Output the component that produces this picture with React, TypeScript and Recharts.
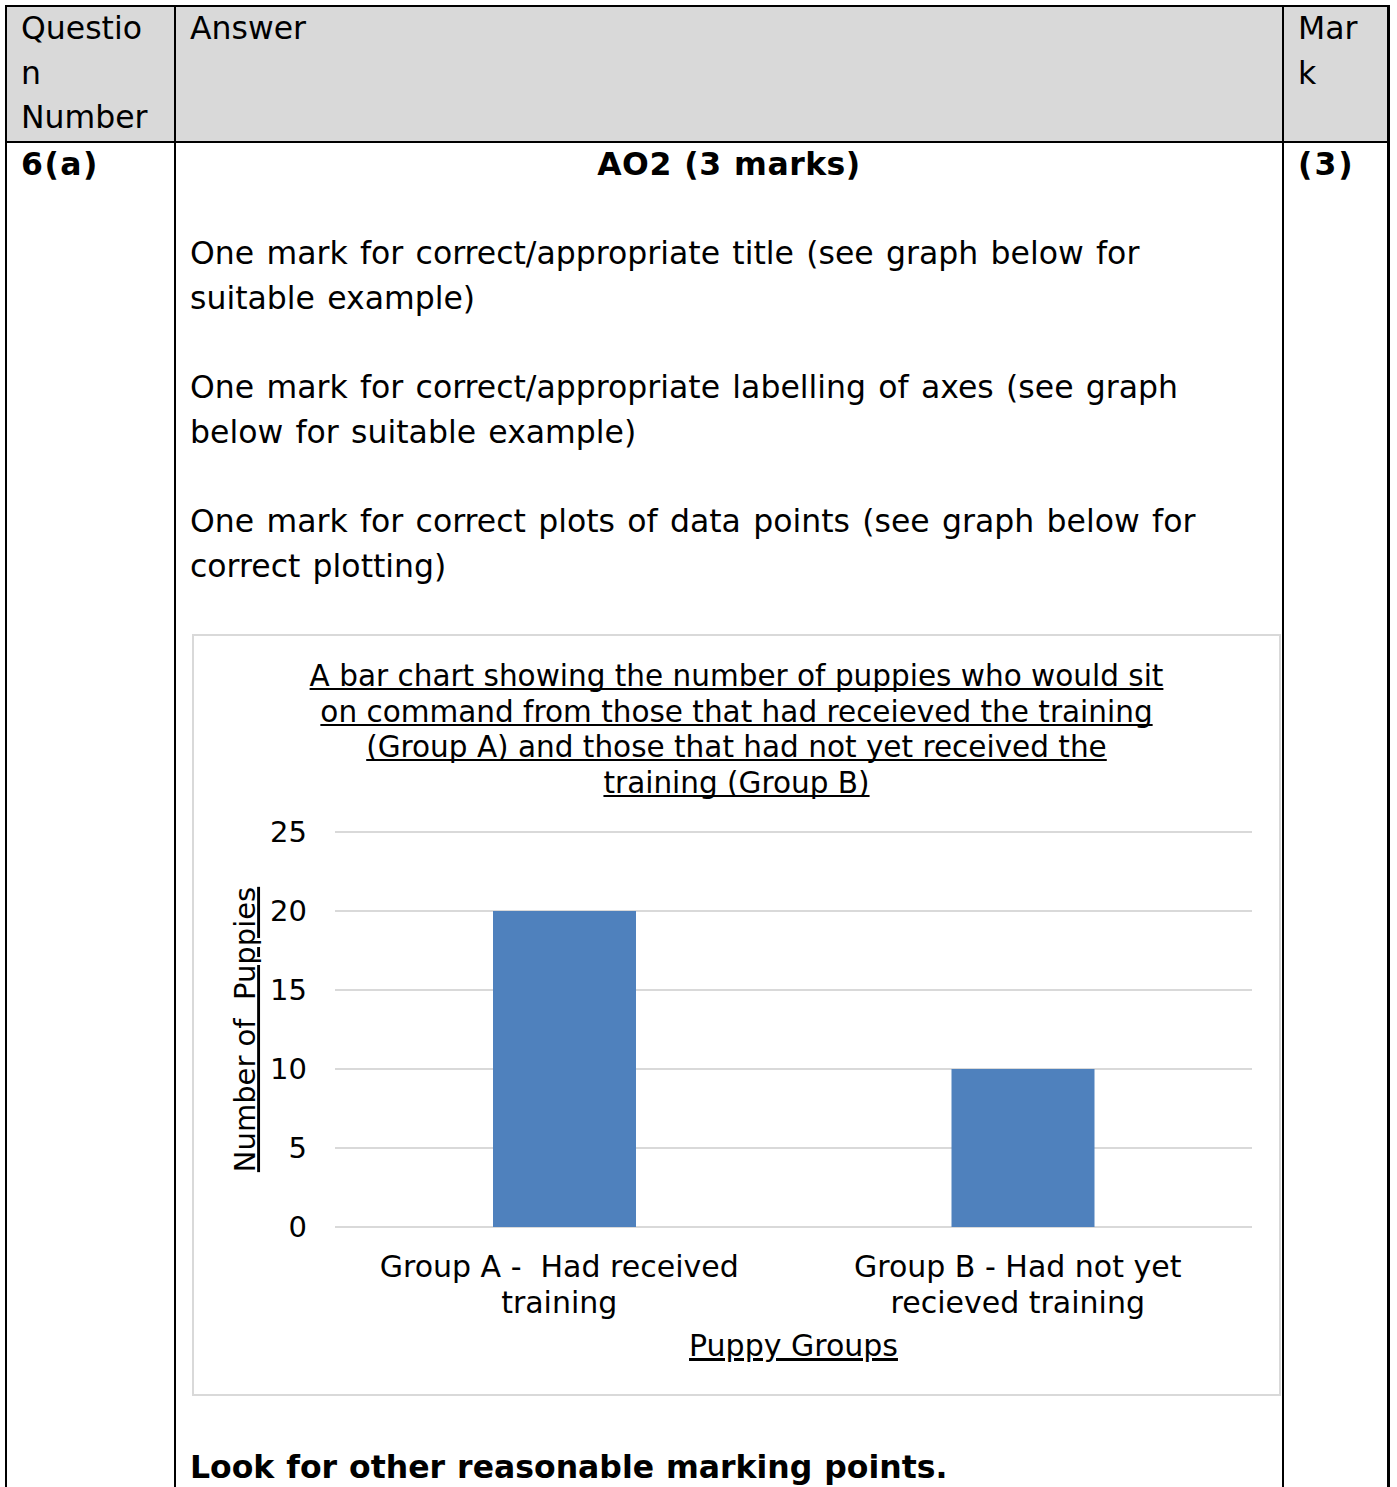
import React from 'react'
import { BarChart, Bar, XAxis, YAxis, CartesianGrid } from 'recharts'

const groups = ['Group A -  Had received|training', 'Group B - Had not yet|recieved training']
const puppies = [20, 10]
const yTicks = [0, 5, 10, 15, 20, 25]

const titleLines = [
  'A bar chart showing the number of puppies who would sit',
  'on command from those that had receieved the training',
  '(Group A) and those that had not yet received the',
  'training (Group B)',
]

const chartData = groups.map((g, i) => ({ group: g, puppies: puppies[i] }))

const FONT = '"DejaVu Sans", Verdana, sans-serif'
const BODY_LH = 44.67

const line = (left: number, top: number, width: number, height: number) => (
  <div style={{ position: 'absolute', left, top, width, height, background: '#000' }} />
)

const GroupTick = (props: any) => {
  const { x, y, payload } = props
  const parts = String(payload.value).split('|')
  return (
    <text x={x} y={y} textAnchor="middle" fill="#000" fontSize={30} fontFamily={FONT} style={{ whiteSpace: 'pre' }}>
      {parts.map((p, i) => (
        <tspan key={i} x={x - 5} dy={i === 0 ? 42 : 36}>{p}</tspan>
      ))}
    </text>
  )
}

function PuppyChart() {
  return (
    <BarChart
      width={1085}
      height={758}
      data={chartData}
      margin={{ top: 196, right: 27, left: 81, bottom: 47 }}
      barCategoryGap="34%"
    >
      <CartesianGrid vertical={false} stroke="#d9d9d9" strokeWidth={2} />
      <XAxis
        dataKey="group"
        axisLine={false}
        tickLine={false}
        height={120}
        interval={0}
        tick={<GroupTick />}
        label={{
          content: (p: any) => {
            const vb = p.viewBox
            return (
              <text
                x={vb.x + vb.width / 2}
                y={vb.y + 129}
                textAnchor="middle"
                fill="#000"
                fontSize={30}
                fontFamily={FONT}
                textDecoration="underline"
                style={{ textDecorationSkipInk: 'none' } as any}
              >
                Puppy Groups
              </text>
            )
          },
        }}
      />
      <YAxis
        width={60}
        domain={[0, 25]}
        ticks={yTicks}
        axisLine={false}
        tickLine={false}
        tickMargin={22}
        tick={{ fill: '#000', fontSize: 29, fontFamily: FONT }}
        label={{
          content: (p: any) => {
            const vb = p.viewBox
            const cx = 51
            const cy = vb.y + vb.height / 2
            return (
              <text
                x={cx}
                y={cy}
                dy="0.35em"
                textAnchor="middle"
                fill="#000"
                fontSize={29}
                fontFamily={FONT}
                textDecoration="underline"
                transform={`rotate(-90 ${cx} ${cy})`}
                style={{ whiteSpace: 'pre', textDecorationSkipInk: 'none' } as any}
              >
                Number of  Puppies
              </text>
            )
          },
        }}
      />
      <Bar dataKey="puppies" fill="#4f81bd" barSize={143} isAnimationActive={false} />
    </BarChart>
  )
}

export default function App() {
  const text: React.CSSProperties = {
    position: 'absolute',
    fontFamily: FONT,
    fontSize: 31.5,
    lineHeight: `${BODY_LH}px`,
    color: '#000',
    whiteSpace: 'pre',
    wordSpacing: 2.3,
  }
  const bold: React.CSSProperties = { fontWeight: 'bold', wordSpacing: 1 }
  return (
    <div style={{ position: 'absolute', left: 0, top: 0, width: 1397, height: 1487, overflow: 'hidden', background: '#fff' }}>
      {/* header fill */}
      <div style={{ position: 'absolute', left: 6, top: 6, width: 1382, height: 136, background: '#d9d9d9' }} />
      {line(5, 5, 1385, 2)}
      {line(5, 141, 1385, 2)}
      {line(5, 5, 2, 1482)}
      {line(174, 5, 2, 1482)}
      {line(1282, 5, 2, 1482)}
      {line(1387, 5, 3, 1482)}

      <div style={{ ...text, left: 21, top: 6 }}>{'Questio\nn\nNumber'}</div>
      <div style={{ ...text, left: 190, top: 6 }}>Answer</div>
      <div style={{ ...text, left: 1298, top: 6 }}>{'Mar\nk'}</div>

      <div style={{ ...text, ...bold, left: 21, top: 142, letterSpacing: 1.5 }}>6(a)</div>
      <div style={{ ...text, ...bold, left: 176, width: 1106, top: 142, textAlign: 'center', letterSpacing: 0.5 }}>AO2 (3 marks)</div>
      <div style={{ ...text, ...bold, left: 1298, top: 142, letterSpacing: 2 }}>(3)</div>

      <div style={{ ...text, left: 190, top: 142 + BODY_LH * 2 }}>
        {'One mark for correct/appropriate title (see graph below for\nsuitable example)\n\n' +
          'One mark for correct/appropriate labelling of axes (see graph\nbelow for suitable example)\n\n' +
          'One mark for correct plots of data points (see graph below for\ncorrect plotting)'}
      </div>

      <div style={{ ...text, ...bold, left: 190, top: 1445 }}>Look for other reasonable marking points.</div>

      {/* chart frame */}
      <div
        style={{
          position: 'absolute',
          left: 192,
          top: 634,
          width: 1089,
          height: 762,
          border: '2px solid #d9d9d9',
          boxSizing: 'border-box',
          background: '#fff',
        }}
      />
      <div
        style={{
          position: 'absolute',
          left: 194,
          top: 659,
          width: 1085,
          textAlign: 'center',
          fontFamily: FONT,
          fontSize: 29.5,
          lineHeight: '35.7px',
          color: '#000',
          textDecoration: 'underline',
          textDecorationSkipInk: 'none',
          whiteSpace: 'pre',
        }}
      >
        {titleLines.join('\n')}
      </div>
      <div style={{ position: 'absolute', left: 194, top: 636 }}>
        <PuppyChart />
      </div>
    </div>
  )
}
